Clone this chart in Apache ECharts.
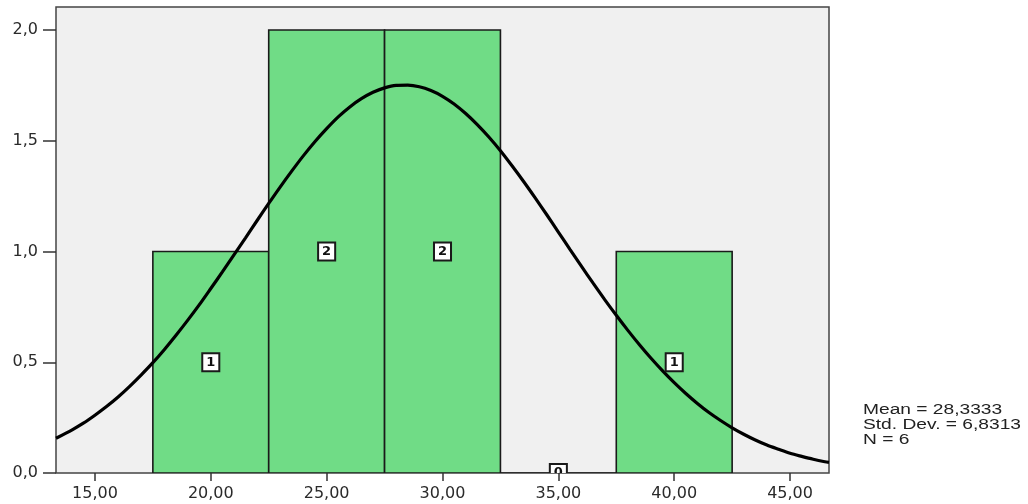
<!DOCTYPE html>
<html><head><meta charset="utf-8">
<script src="https://cdn.jsdelivr.net/npm/echarts@6/dist/echarts.min.js"></script>
<style>html,body{margin:0;padding:0;background:#fff}#c{width:1028px;height:504px}</style>
</head><body><div id="c"></div>
<script>
const binStart = [17.5, 22.5, 27.5, 32.5, 37.5];
const binEnd   = [22.5, 27.5, 32.5, 37.5, 42.5];
const counts   = [1, 2, 2, 0, 1];
const curveX = [13.32,14,14.5,15,15.5,16,16.5,17,17.5,18,18.5,19,19.5,20,20.5,21,21.5,22,22.5,23,23.5,24,24.5,25,25.5,26,26.5,27,27.5,28,28.5,29,29.5,30,30.5,31,31.5,32,32.5,33,33.5,34,34.5,35,35.5,36,36.5,37,37.5,38,38.5,39,39.5,40,40.5,41,41.5,42,42.5,43,43.5,44,44.5,45,45.5,46,46.5,46.68];
const curveY = [0.157,0.194,0.225,0.261,0.300,0.343,0.391,0.443,0.498,0.558,0.622,0.689,0.759,0.833,0.908,0.985,1.062,1.140,1.217,1.292,1.364,1.433,1.497,1.555,1.608,1.653,1.690,1.719,1.739,1.750,1.751,1.744,1.727,1.701,1.666,1.623,1.573,1.517,1.455,1.387,1.316,1.242,1.166,1.088,1.010,0.933,0.857,0.783,0.712,0.644,0.579,0.518,0.461,0.408,0.359,0.314,0.273,0.237,0.204,0.175,0.149,0.126,0.107,0.089,0.075,0.062,0.051,0.048];
const xTicks = [15, 20, 25, 30, 35, 40, 45];
const yTicks = [0, 0.5, 1, 1.5, 2];
const statsLines = ['Mean = 28,3333', 'Std. Dev. = 6,8313', 'N = 6'];

const chart = echarts.init(document.getElementById('c'));
const fmt = d => v => v.toFixed(d).replace('.', ',');
const barData = binStart.map((s, i) => [s, binEnd[i], counts[i]]);
const lineData = curveX.map((x, i) => [x, curveY[i]]);

chart.setOption({
  animation: false,
  grid: { left: 56, right: 199, top: 7, bottom: 31, show: true, backgroundColor: '#f0f0f0', borderColor: '#444', borderWidth: 1.5 },
  xAxis: {
    type: 'value', min: 13.32, max: 46.68,
    splitLine: { show: false },
    axisLine: { show: false },
    axisTick: { show: true, customValues: xTicks, length: 8, lineStyle: { color: '#333', width: 1.5 } },
    axisLabel: { customValues: xTicks, formatter: fmt(2), margin: 13, color: '#2a2a2a', fontFamily: 'DejaVu Sans', fontSize: 16 }
  },
  yAxis: {
    type: 'value', min: 0, max: 2.104,
    splitLine: { show: false },
    axisLine: { show: false },
    axisTick: { show: true, customValues: yTicks, length: 13, lineStyle: { color: '#333', width: 1.5 } },
    axisLabel: { customValues: yTicks, formatter: fmt(1), margin: 18, color: '#2a2a2a', fontFamily: 'DejaVu Sans', fontSize: 16 }
  },
  series: [
    {
      type: 'custom',
      clip: true,
      encode: { x: [0, 1], y: 2 },
      data: barData,
      renderItem: function (params, api) {
        const s = api.value(0), e = api.value(1), c = api.value(2);
        const p0 = api.coord([s, c]);
        const p1 = api.coord([e, 0]);
        return {
          type: 'rect',
          shape: { x: p0[0], y: p0[1], width: p1[0] - p0[0], height: p1[1] - p0[1] },
          style: { fill: '#70dc86', stroke: '#1a1a1a', lineWidth: 1.6 }
        };
      },
      z: 2
    },
    {
      type: 'line',
      data: lineData,
      smooth: 0.3,
      showSymbol: false,
      symbol: 'none',
      lineStyle: { color: '#000', width: 3.2 },
      z: 3
    },
    {
      type: 'custom',
      clip: true,
      encode: { x: [0, 1], y: 2 },
      data: barData,
      renderItem: function (params, api) {
        const s = api.value(0), e = api.value(1), c = api.value(2);
        const p = api.coord([(s + e) / 2, c / 2]);
        return {
          type: 'text',
          x: p[0], y: p[1],
          style: {
            text: String(c), align: 'center', verticalAlign: 'middle',
            font: 'bold 13px "DejaVu Sans"', fill: '#111',
            backgroundColor: '#fff', borderColor: '#1a1a1a', borderWidth: 2,
            padding: [2, 3, 1, 3]
          }
        };
      },
      z: 4
    }
  ],
  graphic: [{
    type: 'text', left: 863, top: 403, scaleX: 1.37,
    style: { text: statsLines.join('\n'), font: '14px "Liberation Sans"', lineHeight: 15, fill: '#222' }
  }]
});
</script></body></html>
